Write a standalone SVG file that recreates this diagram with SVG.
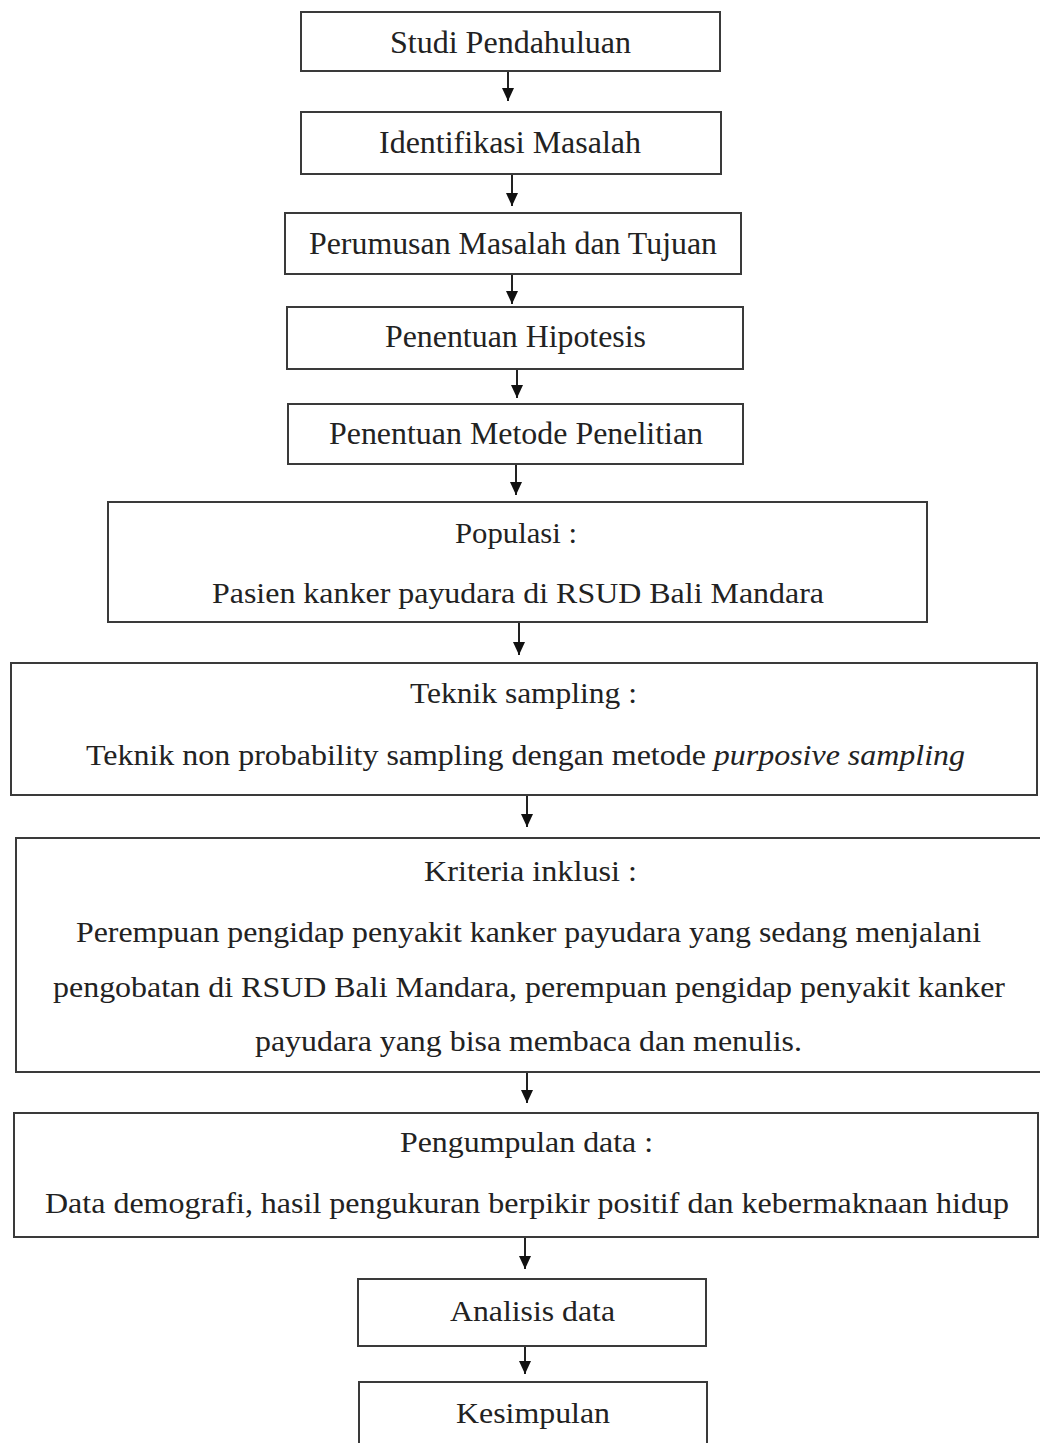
<svg xmlns="http://www.w3.org/2000/svg" width="1040" height="1443" viewBox="0 0 1040 1443">
<style>
.box{fill:#fff;stroke:#3a3a3a;stroke-width:2}
.t{font-family:"Liberation Serif","Times New Roman",serif;font-size:32px;fill:#222;text-anchor:middle}
.s{font-size:30px}
.c{stroke:#222;stroke-width:2;fill:none}
</style>
<defs>
<marker id="ah" markerUnits="userSpaceOnUse" markerWidth="14" markerHeight="14" refX="13" refY="7" orient="auto" viewBox="0 0 14 14">
<path d="M0,1 L13,7 L0,13 Z" fill="#111"/>
</marker>
</defs>
<rect width="1040" height="1443" fill="#fff"/>
<g id="connectors">
<line class="c" x1="508" y1="72" x2="508" y2="101" marker-end="url(#ah)"/>
<line class="c" x1="512" y1="175" x2="512" y2="206" marker-end="url(#ah)"/>
<line class="c" x1="512" y1="275" x2="512" y2="304" marker-end="url(#ah)"/>
<line class="c" x1="517" y1="370" x2="517" y2="398" marker-end="url(#ah)"/>
<line class="c" x1="516" y1="465" x2="516" y2="495" marker-end="url(#ah)"/>
<line class="c" x1="519" y1="623" x2="519" y2="655" marker-end="url(#ah)"/>
<line class="c" x1="527" y1="796" x2="527" y2="827" marker-end="url(#ah)"/>
<line class="c" x1="527" y1="1073" x2="527" y2="1103" marker-end="url(#ah)"/>
<line class="c" x1="525" y1="1238" x2="525" y2="1269" marker-end="url(#ah)"/>
<line class="c" x1="525" y1="1347" x2="525" y2="1374" marker-end="url(#ah)"/>
</g>
<g id="n1"><rect class="box" x="301" y="12" width="419" height="59"/><text class="t" x="510.5" y="53" textLength="241" lengthAdjust="spacingAndGlyphs">Studi Pendahuluan</text></g>
<g id="n2"><rect class="box" x="301" y="112" width="420" height="62"/><text class="t" x="510" y="153" textLength="262" lengthAdjust="spacingAndGlyphs">Identifikasi Masalah</text></g>
<g id="n3"><rect class="box" x="285" y="213" width="456" height="61"/><text class="t" x="513" y="254" textLength="408" lengthAdjust="spacingAndGlyphs">Perumusan Masalah dan Tujuan</text></g>
<g id="n4"><rect class="box" x="287" y="307" width="456" height="62"/><text class="t" x="515.5" y="347" textLength="261" lengthAdjust="spacingAndGlyphs">Penentuan Hipotesis</text></g>
<g id="n5"><rect class="box" x="288" y="404" width="455" height="60"/><text class="t" x="516" y="444" textLength="374" lengthAdjust="spacingAndGlyphs">Penentuan Metode Penelitian</text></g>
<g id="n6"><rect class="box" x="108" y="502" width="819" height="120"/>
<text class="t s" x="516" y="543" textLength="122" lengthAdjust="spacingAndGlyphs">Populasi :</text>
<text class="t s" x="518" y="603" textLength="612" lengthAdjust="spacingAndGlyphs">Pasien kanker payudara di RSUD Bali Mandara</text></g>
<g id="n7"><rect class="box" x="11" y="663" width="1026" height="132"/>
<text class="t s" x="523.5" y="703" textLength="227" lengthAdjust="spacingAndGlyphs">Teknik sampling :</text>
<text class="t s" x="525.5" y="765" textLength="879" lengthAdjust="spacingAndGlyphs">Teknik non probability sampling dengan metode <tspan font-style="italic">purposive sampling</tspan></text></g>
<g id="n8"><rect class="box" x="16" y="838" width="1030" height="234"/>
<text class="t s" x="530.5" y="881" textLength="213" lengthAdjust="spacingAndGlyphs">Kriteria inklusi :</text>
<text class="t s" x="528.5" y="942" textLength="905" lengthAdjust="spacingAndGlyphs">Perempuan pengidap penyakit kanker payudara yang sedang menjalani</text>
<text class="t s" x="529" y="997" textLength="952" lengthAdjust="spacingAndGlyphs">pengobatan di RSUD Bali Mandara, perempuan pengidap penyakit kanker</text>
<text class="t s" x="528.5" y="1051" textLength="547" lengthAdjust="spacingAndGlyphs">payudara yang bisa membaca dan menulis.</text></g>
<g id="n9"><rect class="box" x="14" y="1113" width="1024" height="124"/>
<text class="t s" x="526.5" y="1152" textLength="253" lengthAdjust="spacingAndGlyphs">Pengumpulan data :</text>
<text class="t s" x="527" y="1213" textLength="964" lengthAdjust="spacingAndGlyphs">Data demografi, hasil pengukuran berpikir positif dan kebermaknaan hidup</text></g>
<g id="n10"><rect class="box" x="358" y="1279" width="348" height="67"/>
<text class="t s" x="532.5" y="1321" textLength="165" lengthAdjust="spacingAndGlyphs">Analisis data</text></g>
<g id="n11"><rect class="box" x="359" y="1382" width="348" height="80"/>
<text class="t s" x="533" y="1423" textLength="154" lengthAdjust="spacingAndGlyphs">Kesimpulan</text></g>
</svg>
